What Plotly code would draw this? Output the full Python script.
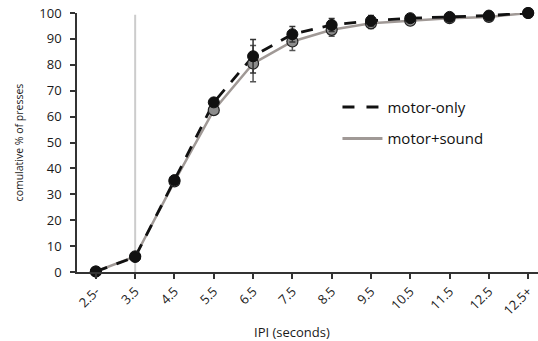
import plotly.graph_objects as go

categories = ["2.5-", "3.5", "4.5", "5.5", "6.5", "7.5", "8.5", "9.5", "10.5", "11.5", "12.5", "12.5+"]
motor_only = [0.2, 5.8, 35.5, 65.5, 83.3, 91.8, 95.4, 97.0, 98.0, 98.5, 99.0, 100.0]
motor_only_err = [0.5, 1.0, 1.5, 1.5, 6.5, 3.0, 2.5, 2.0, 1.0, 0.8, 0.5, 0.0]
motor_sound = [0.2, 6.0, 35.0, 62.5, 80.5, 89.0, 93.5, 96.0, 97.0, 98.0, 98.5, 100.0]
motor_sound_err = [0.5, 1.0, 1.5, 1.5, 7.0, 3.5, 2.5, 2.0, 1.5, 0.8, 0.5, 0.0]
y_ticks = [0, 10, 20, 30, 40, 50, 60, 70, 80, 90, 100]
threshold_category = "3.5"

idx = list(range(len(categories)))
thr = categories.index(threshold_category)

fig = go.Figure()

# lines
fig.add_trace(go.Scatter(x=idx, y=motor_sound, mode="lines", name="motor+sound",
                         line=dict(color="#a09996", width=2.5), cliponaxis=False,
                         showlegend=False))
fig.add_trace(go.Scatter(x=idx, y=motor_only, mode="lines", name="motor-only",
                         line=dict(color="#111111", width=2.8, dash="12px,10px"),
                         cliponaxis=False, showlegend=False))
# markers
fig.add_trace(go.Scatter(x=idx, y=motor_sound, mode="markers", showlegend=False,
                         marker=dict(size=11, color="#8c8c8c", line=dict(color="#222222", width=1.2)),
                         error_y=dict(type="data", array=motor_sound_err, color="#555555", thickness=1.5, width=3),
                         cliponaxis=False))
fig.add_trace(go.Scatter(x=idx, y=motor_only, mode="markers", showlegend=False,
                         marker=dict(size=11, color="#111111", line=dict(color="#111111", width=1)),
                         error_y=dict(type="data", array=motor_only_err, color="#333333", thickness=1.5, width=3),
                         cliponaxis=False))
# legend entries
fig.add_trace(go.Scatter(x=[None], y=[None], mode="lines", name="motor-only", legendgroup="a",
                         line=dict(color="#111111", width=3, dash="12px,12px")))
fig.add_trace(go.Scatter(x=[None], y=[None], mode="lines", name="motor+sound", legendgroup="b",
                         line=dict(color="#a09996", width=3)))

fig.add_shape(type="line", xref="x", yref="y", x0=thr, x1=thr, y0=0, y1=99.3,
              line=dict(color="#cccccc", width=2), layer="below")

font = "Open Sans, Noto Sans, sans-serif"
fig.update_layout(
    width=538, height=341,
    margin=dict(l=77, r=0, t=13, b=69),
    paper_bgcolor="white", plot_bgcolor="white",
    font=dict(family=font, color="#1a1a1a"),
    legend=dict(x=0.565, y=0.70, xanchor="left", yanchor="top",
                font=dict(size=15, color="#111111"), bgcolor="rgba(0,0,0,0)",
                tracegroupgap=9, itemwidth=40),
    xaxis=dict(range=[-0.48, 11.25], tickmode="array", tickvals=idx, ticktext=categories,
               tickangle=-45, ticks="outside", ticklen=5, tickwidth=1.5, tickcolor="#333333",
               showline=True, linecolor="#333333", linewidth=1.5, showgrid=False, zeroline=False,
               tickfont=dict(size=13, color="#1a1a1a")),
    yaxis=dict(range=[0, 100], tickvals=y_ticks, ticks="outside", ticklen=5, tickwidth=1.5,
               tickcolor="#333333", showline=True, linecolor="#333333", linewidth=1.5,
               showgrid=False, zeroline=False, tickfont=dict(size=13, color="#1a1a1a"),
               ticklabelstandoff=6,
               title=dict(text="comulative % of presses", font=dict(size=10.5, color="#1a1a1a"), standoff=14)),
    annotations=[dict(text="IPI (seconds)", xref="paper", yref="paper", x=0.466, y=-0.23,
                      xanchor="center", yanchor="middle", showarrow=False,
                      font=dict(size=13, color="#1a1a1a"))],
)

fig.write_html("out.html", post_script="document.body.style.margin='0px';",
               config={"displayModeBar": False})
